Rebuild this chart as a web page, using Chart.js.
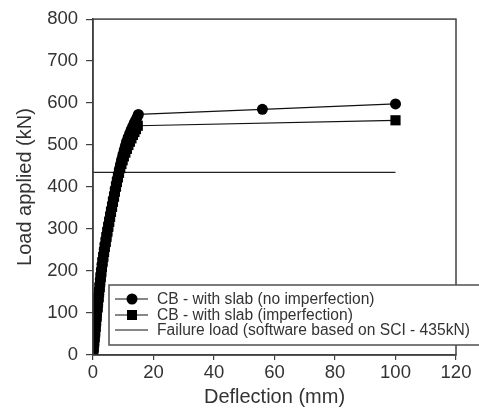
<!DOCTYPE html>
<html>
<head>
<meta charset="utf-8">
<script src="https://cdn.jsdelivr.net/npm/chart.js@4.4.1/dist/chart.umd.min.js"></script>
<style>
  html, body { margin: 0; padding: 0; background: #fff; }
  #wrap { width: 479px; height: 409px; position: relative; }
</style>
</head>
<body>
<div id="wrap"><canvas id="c" width="479" height="409"></canvas></div>
<script>
// Composite beam with slab: load applied vs. mid-span deflection
const deflNoImp = [0, 0.15, 0.3, 0.45, 0.6, 0.75, 0.9, 1.05, 1.2, 1.4, 1.55, 1.7, 1.9, 2.05, 2.25, 2.4, 2.6, 2.8, 3.0, 3.25, 3.5, 3.75, 4.0, 4.3, 4.6, 4.9, 5.2, 5.5, 5.8, 6.1, 6.45, 6.75, 7.1, 7.4, 7.75, 8.1, 8.45, 8.8, 9.15, 9.5, 9.9, 10.3, 10.7, 11.1, 11.6, 12.1, 12.6, 13.1, 13.6, 14.1, 14.6, 15.0, 56, 100];
const loadNoImp = [0, 12, 25, 37, 49, 61, 73, 85, 96, 108, 120, 132, 144, 156, 168, 180, 192, 204, 216, 228, 240, 252, 264, 276, 288, 300, 312, 324, 336, 348, 360, 372, 384, 396, 408, 420, 432, 444, 455, 466, 477, 488, 498, 508, 518, 527, 536, 544, 552, 559, 566, 573, 585, 598];

const deflImp = [0, 0.2, 0.35, 0.5, 0.7, 0.85, 1.0, 1.15, 1.3, 1.5, 1.65, 1.85, 2.0, 2.2, 2.35, 2.55, 2.75, 2.95, 3.15, 3.4, 3.65, 3.9, 4.2, 4.45, 4.75, 5.05, 5.35, 5.65, 5.95, 6.3, 6.6, 6.95, 7.25, 7.6, 7.9, 8.25, 8.6, 9.0, 9.4, 9.8, 10.2, 10.7, 11.2, 11.7, 12.2, 12.7, 13.2, 13.7, 14.2, 14.8, 100];
const loadImp = [0, 16, 28, 41, 53, 66, 78, 90, 101, 113, 125, 137, 149, 161, 173, 185, 197, 209, 221, 233, 245, 257, 269, 281, 293, 305, 317, 329, 341, 353, 365, 377, 389, 401, 412, 423, 434, 445, 455, 464, 473, 482, 491, 500, 508, 516, 524, 531, 538, 546, 559];

const deflFailure = [0, 100];
const loadFailure = [435, 435];

const seriesLabels = [
  'CB - with slab (no imperfection)',
  'CB - with slab (imperfection)',
  'Failure load (software based on SCI - 435kN)'
];
const xTicksMax = 120;
const yTicksMax = 800;

const pts = (xs, ys) => xs.map((x, i) => ({ x: x, y: ys[i] }));

const TEXT = '#333333';
const AXIS = '#404040';
const FONT = "'Liberation Sans', Arial, sans-serif";

// frame around the plotting area
const framePlugin = {
  id: 'frame',
  afterDatasetsDraw(chart) {
    const { ctx, chartArea: a } = chart;
    ctx.save();
    ctx.strokeStyle = AXIS;
    ctx.lineWidth = 1.5;
    ctx.strokeRect(a.left, a.top, a.right - a.left, a.bottom - a.top);
    ctx.restore();
  }
};

// boxed legend sitting over the lower part of the plot
const boxLegend = {
  id: 'boxLegend',
  afterDraw(chart) {
    const { ctx } = chart;
    const box = { left: 109, top: 285, right: 490, bottom: 345 };
    ctx.save();
    ctx.fillStyle = '#ffffff';
    ctx.fillRect(box.left, box.top, box.right - box.left, box.bottom - box.top);
    ctx.strokeStyle = '#505050';
    ctx.lineWidth = 1.5;
    ctx.beginPath();
    ctx.moveTo(box.right, box.top);
    ctx.lineTo(box.left, box.top);
    ctx.lineTo(box.left, box.bottom);
    ctx.lineTo(box.right, box.bottom);
    ctx.stroke();
    const rows = [299, 315, 330];
    chart.data.datasets.forEach((ds, i) => {
      const y = rows[i];
      ctx.strokeStyle = '#111';
      ctx.lineWidth = 1.2;
      ctx.beginPath();
      ctx.moveTo(115, y);
      ctx.lineTo(148, y);
      ctx.stroke();
      ctx.fillStyle = '#000';
      if (ds.pointStyle === 'circle' && ds.pointRadius > 0) {
        ctx.beginPath();
        ctx.arc(132, y, 5.5, 0, Math.PI * 2);
        ctx.fill();
      } else if (ds.pointStyle === 'rect' && ds.pointRadius > 0) {
        ctx.fillRect(127, y - 5, 10, 10);
      }
      ctx.fillStyle = TEXT;
      ctx.font = '15.6px ' + FONT;
      ctx.textBaseline = 'middle';
      ctx.textAlign = 'left';
      ctx.fillText(ds.label, 157, y + 0.5);
    });
    ctx.restore();
  }
};

new Chart(document.getElementById('c'), {
  type: 'line',
  data: {
    datasets: [
      {
        label: seriesLabels[0],
        data: pts(deflNoImp, loadNoImp),
        borderColor: '#111',
        borderWidth: 1.2,
        pointStyle: 'circle',
        pointRadius: 5.5,
        pointBackgroundColor: '#000',
        pointBorderWidth: 0,
        tension: 0
      },
      {
        label: seriesLabels[1],
        data: pts(deflImp, loadImp),
        borderColor: '#111',
        borderWidth: 1.2,
        pointStyle: 'rect',
        pointRadius: 7.2,
        pointBackgroundColor: '#000',
        pointBorderWidth: 0,
        tension: 0
      },
      {
        label: seriesLabels[2],
        data: pts(deflFailure, loadFailure),
        borderColor: '#222',
        borderWidth: 1.2,
        pointStyle: 'line',
        pointRadius: 0,
        tension: 0
      }
    ]
  },
  options: {
    responsive: false,
    animation: false,
    events: [],
    layout: { padding: { left: 0, top: 19, right: 23, bottom: 0 } },
    plugins: {
      legend: { display: false },
      tooltip: { enabled: false }
    },
    scales: {
      x: {
        type: 'linear',
        min: 0,
        max: xTicksMax,
        afterFit: s => { s.height = 54; },
        ticks: { stepSize: 20, color: TEXT, font: { family: FONT, size: 18.5 }, padding: 2, maxRotation: 0 },
        grid: { display: true, drawOnChartArea: false, drawTicks: true, tickLength: 5, color: AXIS, lineWidth: 1.2 },
        border: { display: true, color: AXIS, width: 1.5 },
        title: { display: true, text: 'Deflection (mm)', color: TEXT, font: { family: FONT, size: 20 }, padding: { top: 0, bottom: 0 } }
      },
      y: {
        type: 'linear',
        min: 0,
        max: yTicksMax,
        afterFit: s => { s.width = 93; },
        ticks: { stepSize: 100, color: TEXT, font: { family: FONT, size: 18.5 }, padding: 8, },
        grid: { display: true, drawOnChartArea: false, drawTicks: true, tickLength: 7, color: AXIS, lineWidth: 1.2 },
        border: { display: true, color: AXIS, width: 1.5 },
        title: { display: true, text: 'Load applied (kN)', color: TEXT, font: { family: FONT, size: 20 }, padding: { top: 13, bottom: 0 } }
      }
    }
  },
  plugins: [framePlugin, boxLegend]
});
</script>
</body>
</html>
